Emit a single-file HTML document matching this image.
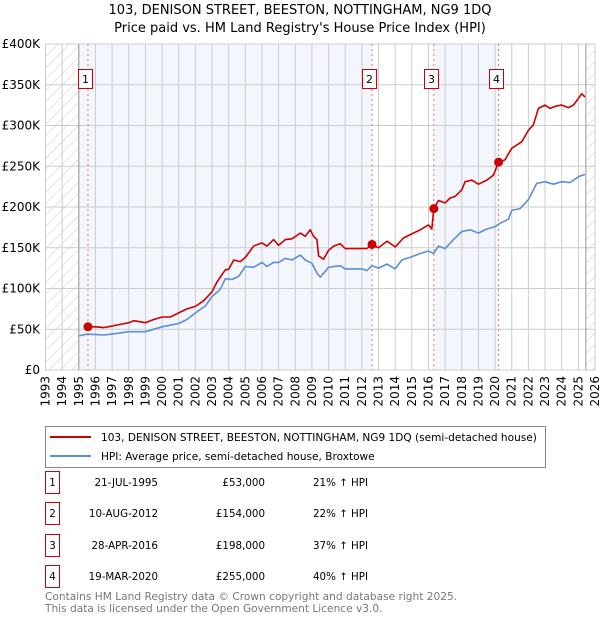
<!DOCTYPE html>
<html><head><meta charset="utf-8"><style>
body{margin:0;background:#fff;font-family:"DejaVu Sans","Liberation Sans",sans-serif;}
svg text{font-family:"DejaVu Sans","Liberation Sans",sans-serif;}
</style></head><body>
<svg id="c" width="600" height="620" viewBox="0 0 600 620" xmlns="http://www.w3.org/2000/svg">
<defs><pattern id="hatch" width="8" height="8" patternUnits="userSpaceOnUse" patternTransform="rotate(45)"><line x1="0" y1="0" x2="0" y2="8" stroke="#ccc" stroke-width="1"/></pattern></defs>
<text x="300" y="14" text-anchor="middle" font-size="13" fill="#000">103, DENISON STREET, BEESTON, NOTTINGHAM, NG9 1DQ</text>
<text x="300" y="32" text-anchor="middle" font-size="13" fill="#000">Price paid vs. HM Land Registry's House Price Index (HPI)</text>
<g id="plot"></g>
<g>
<rect x="45.5" y="426.5" width="500" height="41" fill="#fff" stroke="#888"/>
<line x1="50" y1="437" x2="91" y2="437" stroke="#cc0000" stroke-width="2"/>
<text x="101" y="441" font-size="10.55">103, DENISON STREET, BEESTON, NOTTINGHAM, NG9 1DQ (semi-detached house)</text>
<line x1="50" y1="456" x2="91" y2="456" stroke="#5b8fd6" stroke-width="2"/>
<text x="101" y="460" font-size="10.55">HPI: Average price, semi-detached house, Broxtowe</text>
</g>
<g id="table" font-size="10.3"></g>
<text x="45" y="600" font-size="10.6" fill="#777">Contains HM Land Registry data © Crown copyright and database right 2025.</text>
<text x="45" y="612" font-size="10.6" fill="#777">This data is licensed under the Open Government Licence v3.0.</text>
</svg>
<script>
const hpiDates=[1995,1995.5,1996.5,1997,1998,1999,1999.5,2000,2001,2001.5,2002,2002.6,2003,2003.5,2003.8,2004.2,2004.6,2005,2005.5,2006,2006.3,2006.7,2007,2007.4,2007.8,2008.3,2008.6,2009,2009.3,2009.5,2010,2010.7,2011,2012,2012.3,2012.6,2013,2013.5,2014,2014.4,2015,2015.5,2016,2016.3,2016.6,2017,2017.5,2018,2018.5,2019,2019.5,2020,2020.3,2020.8,2021,2021.5,2022,2022.5,2023,2023.5,2024,2024.5,2025,2025.4];
const hpiValues=[42,44,43,44,47,47,50,53,57,62,70,78.5,90,99,112,111,115,127,126,132,127,132,132,137,135,141,135,131,119,114,126,128,124,124,122,128,125,130,124,135,139,143,146,143,152,149,160,170,172,168,173,176,180,185,196,198,209,229,231,228,231,230,237,240];
const propDates=[1995.55,1996,1996.5,1997,1997.5,1998,1998.3,1999,1999.5,2000,2000.5,2001,2001.5,2002,2002.5,2003,2003.3,2003.8,2004,2004.3,2004.7,2005,2005.5,2006,2006.3,2006.7,2007,2007.4,2007.8,2008.3,2008.6,2008.9,2009.1,2009.3,2009.4,2009.7,2010,2010.3,2010.7,2011,2011.5,2012,2012.3,2012.6,2013,2013.5,2014,2014.5,2015,2015.5,2016,2016.2,2016.32,2016.6,2017,2017.3,2017.6,2018,2018.2,2018.6,2019,2019.5,2019.9,2020.21,2020.6,2021,2021.3,2021.6,2022,2022.3,2022.6,2023,2023.3,2023.7,2024,2024.4,2024.7,2025,2025.2,2025.4];
const propValues=[53,53,52,54,56,58,60.5,58,62,65,65,70,75,78,85,96,108,123,123.5,135,133,138,152,156,152,160,153,160,161,168,164,172,164,160,140,136,147,152,155,149,149,149,149,154,150,158,151,162,167,172,178,173,198,208,205,211,213,221,231,233,228,233,239,255,258,272,276,280,294,301,321,325,321,324,325,322,325,333,339,335];
const saleDates=[1995.55,2012.61,2016.32,2020.21];
const salePrices=[53,154,198,255];
const saleLabels=["1","2","3","4"];
const saleDateText=["21-JUL-1995","10-AUG-2012","28-APR-2016","19-MAR-2020"];
const salePriceText=["£53,000","£154,000","£198,000","£255,000"];
const saleHpiText=["21% ↑ HPI","22% ↑ HPI","37% ↑ HPI","40% ↑ HPI"];
const yTicks=[0,50,100,150,200,250,300,350,400];
const yTickLabels=["£0","£50K","£100K","£150K","£200K","£250K","£300K","£350K","£400K"];

const X0=45.5,X1=595,Y0=370,Y1=44,xMin=1993,xMax=2026,yMax=400;
const sx=v=>X0+(v-xMin)/(xMax-xMin)*(X1-X0);
const sy=v=>Y0-v/yMax*(Y0-Y1);
const NS="http://www.w3.org/2000/svg";
const plot=document.getElementById('plot');
function mk(tag,attrs,parent){const e=document.createElementNS(NS,tag);for(const k in attrs)e.setAttribute(k,attrs[k]);(parent||plot).appendChild(e);return e;}

let bg=mk('rect',{x:sx(1995),y:Y1,width:sx(saleDates[1])-sx(1995),height:Y0-Y1,fill:'#f3f6fd'});


bg=mk('rect',{x:sx(saleDates[2]),y:Y1,width:sx(saleDates[3])-sx(saleDates[2]),height:Y0-Y1,fill:'#f3f6fd'});


let h=mk('rect',{x:X0,y:Y1,width:sx(1995)-X0,height:Y0-Y1,fill:'url(#hatch)'});


h=mk('rect',{x:sx(2025.45),y:Y1,width:X1-sx(2025.45),height:Y0-Y1,fill:'url(#hatch)'});



for(let yr=xMin;yr<=xMax;yr++){
  const g=mk('line',{x1:sx(yr),x2:sx(yr),y1:Y1,y2:Y0,stroke:'#ccc','stroke-width':1});
  
  
  const t=mk('text',{x:0,y:0,'font-size':12,'text-anchor':'end',transform:`translate(${sx(yr)+4},376) rotate(-90)`});
  t.textContent=String(yr);
  
  
}
yTicks.forEach((v,i)=>{
  const g=mk('line',{x1:X0,x2:X1,y1:sy(v),y2:sy(v),stroke:'#ccc','stroke-width':1});
  
  
  const t=mk('text',{x:40,y:sy(v)+4,'font-size':12,'text-anchor':'end'});
  t.textContent=yTickLabels[i];
  
  
});
let vl=mk('line',{x1:sx(1995),x2:sx(1995),y1:Y1,y2:Y0,stroke:'#999','stroke-width':1});


vl=mk('line',{x1:sx(2025.45),x2:sx(2025.45),y1:Y1,y2:Y0,stroke:'#999','stroke-width':1});



saleDates.forEach((d,i)=>{
  const l=mk('line',{x1:sx(d),x2:sx(d),y1:Y1,y2:Y0,stroke:'#f07070','stroke-width':1,'stroke-dasharray':'2,3'});
  
  
});

function path(xs,ys,color,name){
  const d=xs.map((x,i)=>(i?'L':'M')+sx(x).toFixed(1)+','+sy(ys[i]).toFixed(1)).join('');
  const p=mk('path',{d:d,fill:'none',stroke:color,'stroke-width':1.6,'stroke-linejoin':'round'});
  
  
}
path(hpiDates,hpiValues,'#5b8fd6','hpi-line');
path(propDates,propValues,'#cc0000','property-price-line');

saleDates.forEach((d,i)=>{
  const c=mk('circle',{cx:sx(d),cy:sy(salePrices[i]),r:4.5,fill:'#cc0000'});
  
  
  const xr=Math.round(sx(d))-10;
  const r=mk('rect',{x:xr+0.5,y:69.5,width:14,height:19,fill:'#fff',stroke:'#cc0000'});
  
  
  const t=mk('text',{x:xr+7.5,y:83,'font-size':11,'text-anchor':'middle'});
  t.textContent=saleLabels[i];
  
  
});

const tb=document.getElementById('table');
const rowY=[482,513,545,576];
saleLabels.forEach((s,i)=>{
  const y=rowY[i];
  const r=mk('rect',{x:45.5,y:y-10.5,width:14,height:22,fill:'#fff',stroke:'#cc0000'},tb);
  
  
  let t=mk('text',{x:52.5,y:y+4,'text-anchor':'middle'},tb);t.textContent=s;
  
  
  t=mk('text',{x:158,y:y+4,'text-anchor':'end'},tb);t.textContent=saleDateText[i];
  
  
  t=mk('text',{x:265,y:y+4,'text-anchor':'end'},tb);t.textContent=salePriceText[i];
  
  
  t=mk('text',{x:313,y:y+4},tb);t.textContent=saleHpiText[i];
  
  
});
</script>
</body></html>
